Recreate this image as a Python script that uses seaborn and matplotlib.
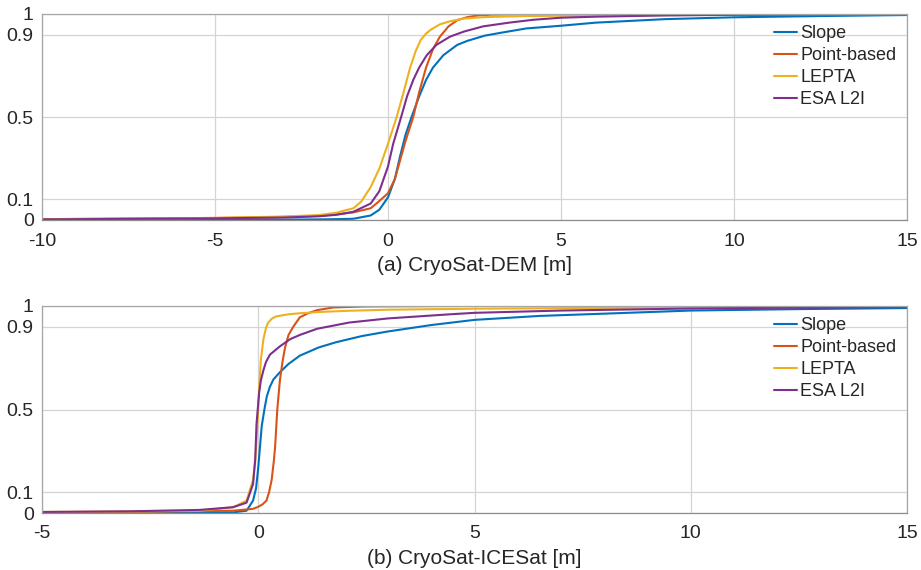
import pandas as pd
import matplotlib
matplotlib.use("Agg")
import matplotlib.pyplot as plt
import seaborn as sns

# --------------------------
# Data read off the reference (empirical CDF curves)
# --------------------------
methods = ["Slope", "Point-based", "LEPTA", "ESA L2I"]
colors = ["#0072BD", "#D95319", "#EDB120", "#7E2F8E"]

# (a) CryoSat-DEM
slope_a_x = [-10, -5, -3, -2, -1.5, -1, -0.5, -0.25, 0, 0.2, 0.35, 0.5, 0.68, 0.9, 1.1, 1.3, 1.6, 2.0,
             2.3, 2.8, 3.3, 4, 5, 6, 8, 10, 12.5, 15]
slope_a_y = [0.0, 0.001, 0.002, 0.003, 0.004, 0.006, 0.022, 0.05, 0.11, 0.2, 0.31, 0.41, 0.5, 0.6, 0.68,
             0.74, 0.8, 0.85, 0.87, 0.895, 0.91, 0.93, 0.943, 0.958, 0.975, 0.984, 0.99, 0.995]

point_a_x = [-10, -5, -3, -2, -1.5, -1, -0.5, -0.3, 0, 0.2, 0.35, 0.5, 0.73, 0.9, 1.1, 1.3, 1.5, 1.75,
             2.0, 2.3, 2.6, 3, 4, 5.5]
point_a_y = [0.004, 0.01, 0.015, 0.02, 0.027, 0.037, 0.057, 0.085, 0.13, 0.2, 0.29, 0.38, 0.5, 0.62,
             0.74, 0.83, 0.89, 0.94, 0.97, 0.985, 0.993, 0.997, 0.999, 1.0]

lepta_a_x = [-10, -5, -3, -2, -1.5, -1, -0.77, -0.5, -0.25, 0, 0.25, 0.45, 0.64, 0.8, 0.95, 1.1, 1.25,
             1.5, 1.8, 2.2, 2.8, 4, 6, 10, 15]
lepta_a_y = [0.004, 0.01, 0.017, 0.024, 0.035, 0.057, 0.09, 0.16, 0.25, 0.37, 0.5, 0.62, 0.74, 0.82,
             0.875, 0.905, 0.925, 0.95, 0.965, 0.978, 0.985, 0.99, 0.993, 0.996, 0.999]

esa_a_x = [-10, -5, -3, -2, -1.5, -1, -0.5, -0.25, 0, 0.15, 0.38, 0.55, 0.73, 0.9, 1.12, 1.4, 1.79,
           2.2, 2.75, 3.5, 4.2, 5, 6, 8, 10, 15]
esa_a_y = [0.003, 0.008, 0.012, 0.018, 0.025, 0.04, 0.08, 0.14, 0.26, 0.37, 0.5, 0.6, 0.68, 0.74, 0.8,
           0.85, 0.89, 0.915, 0.94, 0.958, 0.972, 0.982, 0.987, 0.993, 0.996, 0.999]

# (b) CryoSat-ICESat
slope_b_x = [-5, -2, -1, -0.58, -0.27, -0.12, -0.05, 0, 0.04, 0.08, 0.15, 0.2, 0.27, 0.35, 0.5, 0.7,
             0.96, 1.4, 1.8, 2.4, 3, 4, 5, 6.5, 8, 10, 12.5, 15]
slope_b_y = [0.0, 0.001, 0.002, 0.003, 0.011, 0.06, 0.12, 0.22, 0.32, 0.42, 0.51, 0.565, 0.61, 0.645,
             0.68, 0.72, 0.76, 0.8, 0.825, 0.855, 0.877, 0.908, 0.933, 0.952, 0.963, 0.978, 0.985, 0.99]

point_b_x = [-5, -3, -1.35, -0.58, -0.12, 0, 0.1, 0.19, 0.25, 0.31, 0.36, 0.39, 0.44, 0.5, 0.56, 0.62,
             0.7, 0.81, 0.96, 1.15, 1.36, 1.74, 2.5, 4.69]
point_b_y = [0.004, 0.006, 0.009, 0.011, 0.02, 0.03, 0.042, 0.06, 0.1, 0.16, 0.25, 0.32, 0.5, 0.64,
             0.73, 0.8, 0.86, 0.9, 0.945, 0.965, 0.98, 0.993, 0.998, 1.0]

lepta_b_x = [-5, -3, -1.35, -0.58, -0.27, -0.12, -0.07, -0.04, -0.01, 0.02, 0.06, 0.12, 0.18, 0.23,
             0.32, 0.42, 0.7, 0.96, 1.5, 2.1, 3, 5, 8, 12, 15]
lepta_b_y = [0.005, 0.007, 0.011, 0.028, 0.06, 0.16, 0.25, 0.35, 0.47, 0.6, 0.74, 0.84, 0.895, 0.92,
             0.94, 0.95, 0.96, 0.965, 0.972, 0.977, 0.982, 0.987, 0.991, 0.995, 0.998]

esa_b_x = [-5, -3, -1.35, -0.58, -0.27, -0.12, -0.07, -0.04, 0.0, 0.02, 0.06, 0.12, 0.18, 0.27, 0.5,
           0.74, 0.96, 1.36, 2.1, 3, 4.44, 5, 7, 10, 12.5, 15]
esa_b_y = [0.005, 0.008, 0.015, 0.028, 0.05, 0.14, 0.26, 0.43, 0.53, 0.58, 0.64, 0.69, 0.73, 0.765,
           0.805, 0.84, 0.86, 0.89, 0.92, 0.94, 0.96, 0.967, 0.978, 0.988, 0.992, 0.995]

xticks_a = [-10, -5, 0, 5, 10, 15]
xticks_b = [-5, 0, 5, 10, 15]
yticks = [0, 0.1, 0.5, 0.9, 1]
ytick_labels = ["0", "0.1", "0.5", "0.9", "1"]


def long_frame(xs, ys):
    parts = []
    for name, x, y in zip(methods, xs, ys):
        parts.append(pd.DataFrame({"x": x, "y": y, "method": name}))
    return pd.concat(parts, ignore_index=True)


df_a = long_frame([slope_a_x, point_a_x, lepta_a_x, esa_a_x],
                  [slope_a_y, point_a_y, lepta_a_y, esa_a_y])
df_b = long_frame([slope_b_x, point_b_x, lepta_b_x, esa_b_x],
                  [slope_b_y, point_b_y, lepta_b_y, esa_b_y])

# --------------------------
# Style
# --------------------------
sns.set_theme(style="whitegrid")
plt.rcParams["font.family"] = ["Liberation Sans", "DejaVu Sans"]
plt.rcParams["axes.edgecolor"] = "#a6a6a6"
plt.rcParams["grid.color"] = "#d4d4d4"
plt.rcParams["grid.linewidth"] = 0.9

palette = dict(zip(methods, colors))

fig = plt.figure(figsize=(9.21, 5.70), dpi=100)
ax_a = fig.add_axes([42 / 921, 1 - 220 / 570, 865 / 921, 206 / 570])
ax_b = fig.add_axes([42 / 921, 1 - 513 / 570, 865 / 921, 207 / 570])

panels = [
    (ax_a, df_a, (-10, 15), xticks_a, "(a) CryoSat-DEM [m]"),
    (ax_b, df_b, (-5, 15), xticks_b, "(b) CryoSat-ICESat [m]"),
]

for ax, data, xlim, xticks, xlabel in panels:
    sns.lineplot(data=data, x="x", y="y", hue="method", hue_order=methods, palette=palette,
                 sort=False, estimator=None, linewidth=1.5, ax=ax)
    ax.set_xlim(*xlim)
    ax.set_ylim(0, 1)
    ax.set_xticks(xticks)
    ax.set_xticklabels([str(t) for t in xticks])
    ax.set_yticks(yticks)
    ax.set_yticklabels(ytick_labels)
    ax.tick_params(axis="both", labelsize=14, length=0)
    ax.tick_params(axis="x", pad=9)
    ax.tick_params(axis="y", pad=6)
    ax.set_xlabel(xlabel, fontsize=15, labelpad=5)
    ax.set_ylabel("")
    for side in ["top", "right", "left", "bottom"]:
        ax.spines[side].set_visible(True)
        ax.spines[side].set_linewidth(0.9)
    ax.spines["bottom"].set_color("#8c8c8c")
    handles, labels = ax.get_legend_handles_labels()
    ax.legend(handles, labels, loc="upper right", frameon=False, fontsize=13,
              handlelength=1.3, handletextpad=0.15, labelspacing=0.28,
              borderaxespad=0.3, borderpad=0.3)

fig.savefig("out.png", dpi=100)
